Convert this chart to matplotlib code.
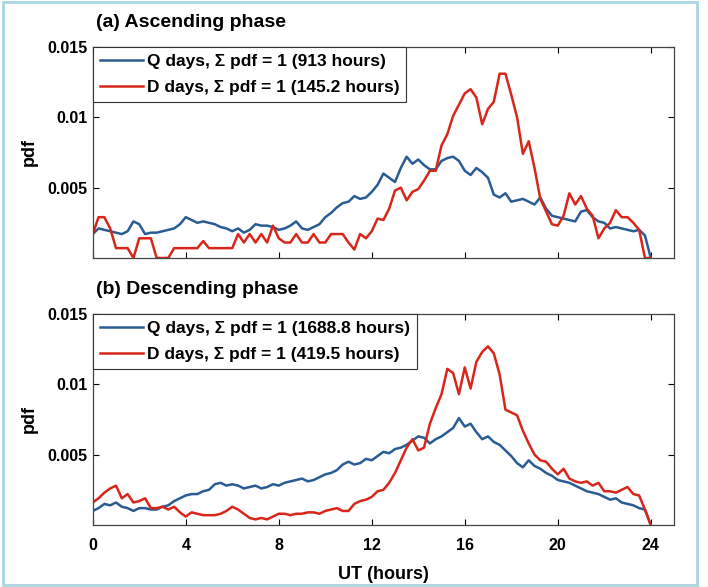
import numpy as np
import matplotlib
matplotlib.use('Agg')
from matplotlib import pyplot as plt
from matplotlib.ticker import FuncFormatter
from matplotlib.patches import Rectangle

plt.rcParams['font.family'] = ['Liberation Sans', 'DejaVu Sans']
plt.rcParams['font.weight'] = 'bold'

# UT hours, 0.25 h steps
ut = np.arange(0, 24.01, 0.25)

# (a) ascending phase
asc_q = [0.0017, 0.0021, 0.0020, 0.0019, 0.0018, 0.0017, 0.0019, 0.0026, 0.0024, 0.0017,
         0.0018, 0.0018, 0.0019, 0.0020, 0.0021, 0.0024, 0.0029, 0.0027, 0.0025, 0.0026,
         0.0025, 0.0024, 0.0022, 0.0021, 0.0019, 0.0021, 0.0018, 0.0020, 0.0024, 0.0023,
         0.0023, 0.0022, 0.0020, 0.0021, 0.0023, 0.0026, 0.0021, 0.0020, 0.0022, 0.0024,
         0.0029, 0.0032, 0.0036, 0.0039, 0.0040, 0.0044, 0.0042, 0.0043, 0.0047, 0.0052,
         0.0060, 0.0057, 0.0054, 0.0064, 0.0072, 0.0067, 0.0070, 0.0066, 0.0063, 0.0063,
         0.0069, 0.0071, 0.0072, 0.0069, 0.0062, 0.0059, 0.0064, 0.0061, 0.0057, 0.0045,
         0.0043, 0.0046, 0.0040, 0.0041, 0.0042, 0.0040, 0.0038, 0.0043, 0.0035, 0.0030,
         0.0029, 0.0028, 0.0027, 0.0026, 0.0033, 0.0034, 0.0029, 0.0026, 0.0025, 0.0021,
         0.0022, 0.0021, 0.0020, 0.0019, 0.0020, 0.0016, 0.0000]
asc_d = [0.0017, 0.0029, 0.0029, 0.0021, 0.0007, 0.0007, 0.0007, 0.0000, 0.0014, 0.0014,
         0.0014, 0.0000, 0.0000, 0.0000, 0.0007, 0.0007, 0.0007, 0.0007, 0.0007, 0.0012,
         0.0007, 0.0007, 0.0007, 0.0007, 0.0007, 0.0017, 0.0011, 0.0017, 0.0011, 0.0017,
         0.0011, 0.0023, 0.0014, 0.0011, 0.0011, 0.0017, 0.0011, 0.0011, 0.0017, 0.0011,
         0.0011, 0.0017, 0.0017, 0.0017, 0.0011, 0.0006, 0.0017, 0.0014, 0.0019, 0.0028,
         0.0027, 0.0035, 0.0048, 0.0050, 0.0041, 0.0047, 0.0049, 0.0055, 0.0062, 0.0062,
         0.0080, 0.0088, 0.0101, 0.0109, 0.0117, 0.0120, 0.0114, 0.0095, 0.0106, 0.0111,
         0.0131, 0.0131, 0.0116, 0.0100, 0.0074, 0.0083, 0.0064, 0.0042, 0.0033, 0.0024,
         0.0023, 0.0030, 0.0046, 0.0038, 0.0044, 0.0035, 0.0030, 0.0014, 0.0021, 0.0025,
         0.0034, 0.0029, 0.0029, 0.0025, 0.0020, 0.0000, 0.0000]

# (b) descending phase
desc_q = [0.0010, 0.0012, 0.0015, 0.0014, 0.0016, 0.0013, 0.0012, 0.0010, 0.0012, 0.0012,
          0.0011, 0.0011, 0.0013, 0.0014, 0.0017, 0.0019, 0.0021, 0.0022, 0.0022, 0.0024,
          0.0025, 0.0029, 0.0030, 0.0028, 0.0029, 0.0028, 0.0026, 0.0027, 0.0028, 0.0026,
          0.0027, 0.0029, 0.0028, 0.0030, 0.0031, 0.0032, 0.0033, 0.0031, 0.0032, 0.0034,
          0.0036, 0.0037, 0.0039, 0.0043, 0.0045, 0.0043, 0.0044, 0.0047, 0.0046, 0.0049,
          0.0052, 0.0051, 0.0054, 0.0055, 0.0057, 0.0060, 0.0063, 0.0062, 0.0058, 0.0061,
          0.0063, 0.0066, 0.0069, 0.0076, 0.0070, 0.0072, 0.0066, 0.0061, 0.0063, 0.0059,
          0.0057, 0.0053, 0.0049, 0.0044, 0.0041, 0.0046, 0.0042, 0.0040, 0.0037, 0.0035,
          0.0032, 0.0031, 0.0030, 0.0028, 0.0026, 0.0024, 0.0023, 0.0022, 0.0020, 0.0018,
          0.0019, 0.0016, 0.0015, 0.0014, 0.0012, 0.0011, 0.0000]
desc_d = [0.0016, 0.0019, 0.0023, 0.0026, 0.0028, 0.0019, 0.0022, 0.0016, 0.0017, 0.0019,
          0.0012, 0.0012, 0.0013, 0.0011, 0.0013, 0.0009, 0.0006, 0.0009, 0.0008, 0.0007,
          0.0007, 0.0007, 0.0008, 0.0010, 0.0013, 0.0011, 0.0008, 0.0005, 0.0004, 0.0005,
          0.0004, 0.0006, 0.0008, 0.0008, 0.0007, 0.0008, 0.0008, 0.0009, 0.0009, 0.0008,
          0.0010, 0.0011, 0.0012, 0.0010, 0.0010, 0.0015, 0.0017, 0.0018, 0.0020, 0.0024,
          0.0025, 0.0030, 0.0037, 0.0046, 0.0055, 0.0061, 0.0053, 0.0055, 0.0072, 0.0083,
          0.0093, 0.0111, 0.0108, 0.0093, 0.0112, 0.0097, 0.0116, 0.0123, 0.0127, 0.0122,
          0.0107, 0.0082, 0.0080, 0.0078, 0.0067, 0.0058, 0.0050, 0.0046, 0.0045, 0.0040,
          0.0036, 0.0040, 0.0033, 0.0031, 0.0030, 0.0031, 0.0028, 0.0030, 0.0024, 0.0024,
          0.0023, 0.0025, 0.0027, 0.0022, 0.0021, 0.0011, 0.0000]

titles = ['(a) Ascending phase', '(b) Descending phase']
q_labels = ['Q days, \u03a3 pdf = 1 (913 hours)', 'Q days, \u03a3 pdf = 1 (1688.8 hours)']
d_labels = ['D days, \u03a3 pdf = 1 (145.2 hours)', 'D days, \u03a3 pdf = 1 (419.5 hours)']
x_ticks = [0, 4, 8, 12, 16, 20, 24]
y_ticks = [0.005, 0.01, 0.015]

blue = '#2a5c94'
red = '#d8261b'

fig = plt.figure(figsize=(7.08, 5.87), dpi=100)
fig.patches.append(Rectangle((0.004, 0.003), 0.98, 0.994, transform=fig.transFigure,
                             fill=False, edgecolor='#a9d6e0', linewidth=2))

positions = [[0.131, 0.5605, 0.821, 0.3595], [0.131, 0.1056, 0.821, 0.3595]]
series = [(asc_q, asc_d), (desc_q, desc_d)]

for i in range(2):
    ax = fig.add_axes(positions[i])
    q, d = series[i]
    ax.plot(ut, q, color=blue, lw=1.8, label=q_labels[i])
    ax.plot(ut, d, color=red, lw=1.8, label=d_labels[i])
    ax.set_xlim(0, 25)
    ax.set_ylim(0, 0.015)
    ax.set_xticks(x_ticks)
    ax.set_yticks(y_ticks)
    ax.yaxis.set_major_formatter(FuncFormatter(lambda v, p: '{:g}'.format(v)))
    ax.tick_params(direction='in', top=True, right=True, labelsize=11.5, length=4, width=0.8)
    ax.tick_params(axis='x', pad=9)
    for s in ax.spines.values():
        s.set_color('#444444')
        s.set_linewidth(0.9)
    ax.set_ylabel('pdf', fontsize=13, fontweight='bold', labelpad=7)
    ax.text(0.005, 1.075, titles[i], transform=ax.transAxes, fontsize=14, fontweight='bold',
            ha='left', va='bottom')
    leg = ax.legend(loc='upper left', fontsize=12.5, frameon=True, fancybox=False,
                    borderaxespad=0, handlelength=2.5, handletextpad=0.2,
                    borderpad=0.4, labelspacing=0.6, framealpha=1)
    leg.get_frame().set_edgecolor('#333333')
    leg.get_frame().set_linewidth(0.8)
    if i == 0:
        ax.tick_params(labelbottom=False)
    else:
        ax.set_xlabel('UT (hours)', fontsize=13, fontweight='bold', labelpad=10)

plt.savefig('out.png', dpi=100)
plt.close()
